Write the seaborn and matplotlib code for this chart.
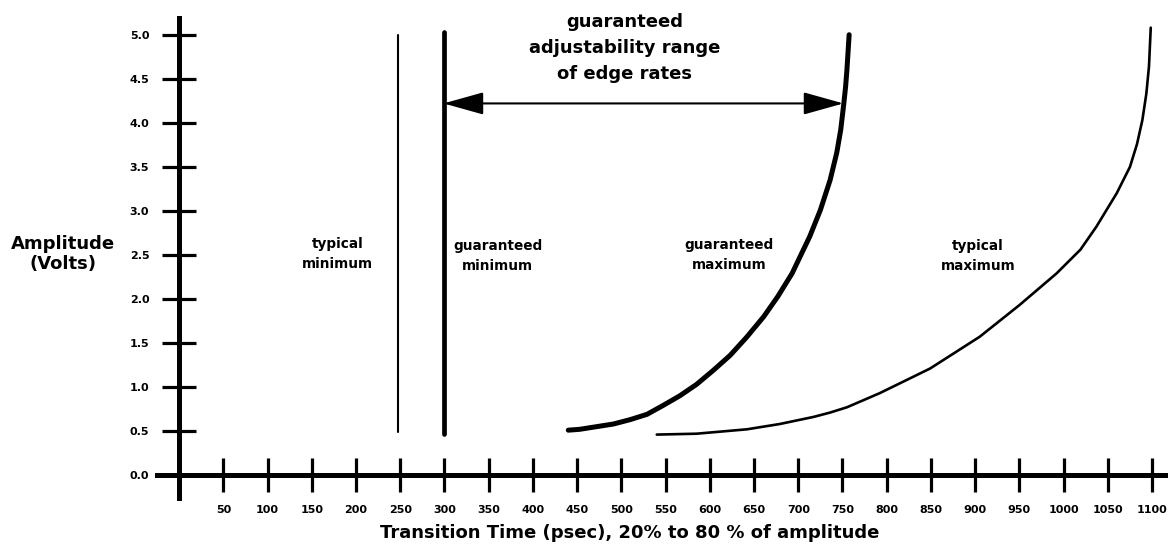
import matplotlib
matplotlib.use("Agg")
import matplotlib.pyplot as plt
import seaborn as sns
import pandas as pd
from matplotlib.patches import FancyArrowPatch

# Edge-rate curves: transition time (psec) versus amplitude (V)
typ_min_x = [248, 248]
typ_min_y = [0.49, 5.0]

gua_min_x = [299, 299]
gua_min_y = [0.47, 5.03]

gua_max_x = [440, 453, 472, 491, 510, 529, 547, 566, 585, 604, 623, 642, 661,
             677, 693, 713, 725, 736, 743.5, 748, 751.5, 753.5, 755, 757.5]
gua_max_y = [0.51, 0.52, 0.55, 0.58, 0.63, 0.69, 0.79, 0.90, 1.03, 1.19, 1.36, 1.57, 1.80,
             2.03, 2.29, 2.71, 3.01, 3.35, 3.66, 3.92, 4.22, 4.41, 4.60, 5.0]

typ_max_x = [540, 585, 642, 679, 717, 736, 755, 792, 849, 905, 950, 992, 1019, 1037,
             1060, 1075, 1083, 1089, 1093.5, 1096.5, 1098.5]
typ_max_y = [0.46, 0.47, 0.52, 0.58, 0.66, 0.71, 0.77, 0.93, 1.21, 1.57, 1.93, 2.29, 2.56, 2.82,
             3.20, 3.50, 3.76, 4.03, 4.33, 4.64, 5.08]

# Adjustability range arrow (from guaranteed minimum to guaranteed maximum)
range_x = [299, 751]
range_y = 4.22

x_ticks = list(range(50, 1101, 50))
y_ticks = [0.0, 0.5, 1.0, 1.5, 2.0, 2.5, 3.0, 3.5, 4.0, 4.5, 5.0]

curve_labels = ["typical\nminimum", "guaranteed\nminimum", "guaranteed\nmaximum", "typical\nmaximum"]
label_x = [179, 360, 622, 903]
label_y = [2.51, 2.49, 2.50, 2.49]

sns.set_style("white")
plt.rcParams["font.family"] = ["DejaVu Sans"]
plt.rcParams["font.weight"] = "bold"
plt.rcParams["text.color"] = "black"

fig = plt.figure(figsize=(11.68, 5.47), dpi=100)
ax = fig.add_axes([157 / 1168, 49 / 547, 1011 / 1168, 480 / 547])

curves = [
    (typ_min_x, typ_min_y, 1.5),
    (gua_min_x, gua_min_y, 3.4),
    (gua_max_x, gua_max_y, 3.6),
    (typ_max_x, typ_max_y, 1.9),
]
for xs, ys, lw in curves:
    df = pd.DataFrame({"t": xs, "v": ys})
    sns.lineplot(data=df, x="t", y="v", sort=False, estimator=None,
                 color="black", lw=lw, ax=ax,
                 solid_capstyle="round", solid_joinstyle="round")

arrow = FancyArrowPatch((range_x[0], range_y), (range_x[1], range_y),
                        arrowstyle="<|-|>,head_length=25,head_width=7",
                        mutation_scale=1, shrinkA=0, shrinkB=0,
                        color="black", lw=1.5)
ax.add_patch(arrow)

ax.text(504, 4.85, "guaranteed\nadjustability range\nof edge rates", color="black",
        ha="center", va="center", fontsize=13, fontweight="bold", linespacing=1.57)
for txt, lx, ly in zip(curve_labels, label_x, label_y):
    ax.text(lx, ly, txt, ha="center", va="center", fontsize=9.8, color="black",
            fontweight="bold", linespacing=1.55)

ax.set_xlim(-25, 1118)
ax.set_ylim(-0.26, 5.19)

for side in ["top", "right"]:
    ax.spines[side].set_visible(False)
ax.spines["left"].set_position(("data", 0))
ax.spines["bottom"].set_position(("data", 0))
for side in ["left", "bottom"]:
    ax.spines[side].set_linewidth(3.6)
    ax.spines[side].set_color("black")

ax.set_xticks(x_ticks)
ax.set_xticklabels([str(v) for v in x_ticks])
ax.set_yticks(y_ticks)
ax.set_yticklabels([f"{v:.1f}" for v in y_ticks])
ax.tick_params(axis="both", direction="inout", length=25, width=2.3,
               pad=9, labelsize=8, color="black", labelcolor="black",
               bottom=True, left=True)
for lab in ax.get_xticklabels() + ax.get_yticklabels():
    lab.set_fontweight("bold")

ax.set_xlabel("")
ax.set_ylabel("")
ax.patch.set_alpha(0)

fig.text(63 / 1168, 1 - 254 / 547, "Amplitude\n(Volts)", ha="center", va="center",
         fontsize=13, fontweight="bold", linespacing=1.1, color="black")
fig.text(630 / 1168, 1 - 533 / 547, "Transition Time (psec), 20% to 80 % of amplitude",
         ha="center", va="center", fontsize=13, fontweight="bold", color="black")

fig.savefig("out.png", dpi=100)
